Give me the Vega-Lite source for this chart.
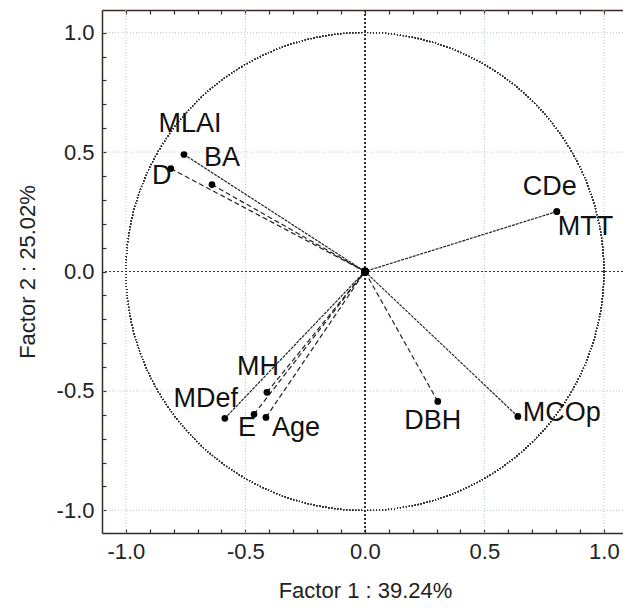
{
  "$schema": "https://vega.github.io/schema/vega-lite/v6.json",
  "width": 521,
  "height": 523,
  "autosize": {"type": "none"},
  "padding": {"left": 102, "top": 10, "right": 0, "bottom": 75},
  "background": "white",
  "config": {
    "view": {"stroke": null},
    "axis": {"grid": false},
    "font": "Liberation Sans",
    "text": {"font": "Liberation Sans", "fontSize": 27, "color": "#111", "baseline": "alphabetic"}
  },
  "data": {
    "values": [
      {"name": "MLAI", "x": -0.757, "y": 0.490},
      {"name": "D", "x": -0.812, "y": 0.431},
      {"name": "BA", "x": -0.640, "y": 0.364},
      {"name": "CDe", "x": 0.803, "y": 0.251},
      {"name": "MTT", "x": 0.803, "y": 0.251},
      {"name": "DBH", "x": 0.305, "y": -0.544},
      {"name": "MCOp", "x": 0.640, "y": -0.607},
      {"name": "MH", "x": -0.410, "y": -0.506},
      {"name": "E", "x": -0.464, "y": -0.598},
      {"name": "Age", "x": -0.414, "y": -0.611},
      {"name": "MDef", "x": -0.586, "y": -0.615}
    ]
  },
  "resolve": {"axis": {"x": "independent", "y": "independent"}},
  "layer": [
    {
      "mark": {"type": "point", "opacity": 0},
      "encoding": {
        "x": {
          "field": "x", "type": "quantitative",
          "scale": {"domain": [-1.1, 1.08], "nice": false, "zero": false},
          "axis": {
            "orient": "bottom",
            "title": "Factor 1 : 39.24%",
            "titleX": 263,
            "titlePadding": 18,
            "values": [-1.0, -0.9, -0.8, -0.7, -0.6, -0.5, -0.4, -0.3, -0.2, -0.1, 0, 0.1, 0.2, 0.3, 0.4, 0.5, 0.6, 0.7, 0.8, 0.9, 1.0],
            "labelExpr": "abs(datum.value * 2 - round(datum.value * 2)) < 0.001 ? (datum.value < 0 ? '-' : '') + format(abs(datum.value), '.1f') : ''",
            "labelFontSize": 22, "labelColor": "#222", "labelPadding": 12,
            "labelFlush": false, "labelOverlap": false, "labelBound": false,
            "tickSize": -4, "tickColor": "#333", "tickWidth": 1.2,
            "domainColor": "#3a2a26", "domainWidth": 1.5,
            "titleFontSize": 22, "titleFontWeight": "normal", "titleColor": "#222",
            "grid": false
          }
        },
        "y": {
          "field": "y", "type": "quantitative",
          "scale": {"domain": [-1.095, 1.095], "nice": false, "zero": false},
          "axis": {
            "orient": "left",
            "title": "Factor 2 : 25.02%",
            "titlePadding": 17,
            "values": [-1.0, -0.9, -0.8, -0.7, -0.6, -0.5, -0.4, -0.3, -0.2, -0.1, 0, 0.1, 0.2, 0.3, 0.4, 0.5, 0.6, 0.7, 0.8, 0.9, 1.0],
            "labelExpr": "abs(datum.value * 2 - round(datum.value * 2)) < 0.001 ? (datum.value < 0 ? '-' : '') + format(abs(datum.value), '.1f') : ''",
            "labelFontSize": 22, "labelColor": "#222", "labelPadding": 12,
            "labelFlush": false, "labelOverlap": false, "labelBound": false,
            "tickSize": -4, "tickColor": "#333", "tickWidth": 1.2,
            "domainColor": "#3a2a26", "domainWidth": 1.5,
            "titleFontSize": 22, "titleFontWeight": "normal", "titleColor": "#222",
            "grid": false
          }
        }
      }
    },
    {
      "mark": {"type": "point", "opacity": 0},
      "encoding": {
        "x": {
          "field": "x", "type": "quantitative",
          "axis": {
            "orient": "top", "title": null, "labels": false, "grid": false,
            "values": [-1.0, -0.9, -0.8, -0.7, -0.6, -0.5, -0.4, -0.3, -0.2, -0.1, 0, 0.1, 0.2, 0.3, 0.4, 0.5, 0.6, 0.7, 0.8, 0.9, 1.0],
            "tickSize": -4, "tickColor": "#333", "tickWidth": 1.2,
            "domainColor": "#3a2a26", "domainWidth": 1.5
          }
        }
      }
    },
    {
      "layer": [
        {
          "data": {"values": [{"g": -1.0}, {"g": -0.5}, {"g": 0.5}, {"g": 1.0}]},
          "mark": {"type": "rule", "color": "#b7c4d2", "strokeWidth": 1, "strokeDash": [1, 2]},
          "encoding": {"x": {"field": "g", "type": "quantitative", "axis": null}}
        },
        {
          "data": {"values": [{"g": -1.0}, {"g": -0.5}, {"g": 0.5}, {"g": 1.0}]},
          "mark": {"type": "rule", "color": "#b7c4d2", "strokeWidth": 1, "strokeDash": [1, 2]},
          "encoding": {"y": {"field": "g", "type": "quantitative", "axis": null}}
        },
        {
          "mark": {"type": "rule", "color": "#333", "strokeDash": [2, 2], "strokeWidth": 1},
          "encoding": {"x": {"datum": 0, "type": "quantitative", "axis": null}}
        },
        {
          "mark": {"type": "rule", "color": "#333", "strokeDash": [2, 2], "strokeWidth": 1},
          "encoding": {"y": {"datum": 0, "type": "quantitative", "axis": null}}
        },
        {
          "mark": {
            "type": "point", "shape": "circle", "filled": false, "stroke": "#333", "strokeWidth": 1.2, "strokeDash": [1, 2], "opacity": 1,
            "size": {"expr": "4 * pow(scale('x', 1) - scale('x', 0), 2)"}
          },
          "encoding": {
            "x": {"datum": 0, "type": "quantitative", "axis": null},
            "y": {"datum": 0, "type": "quantitative", "axis": null}
          }
        },
        {
          "transform": [{"filter": {"field": "name", "oneOf": ["MLAI", "CDe", "MCOp", "MDef"]}}],
          "mark": {"type": "rule", "color": "#222", "strokeWidth": 1.2, "strokeDash": [3, 1]},
          "encoding": {
            "x": {"field": "x", "type": "quantitative", "axis": null},
            "y": {"field": "y", "type": "quantitative", "axis": null},
            "x2": {"datum": 0},
            "y2": {"datum": 0}
          }
        },
        {
          "transform": [{"filter": {"field": "name", "oneOf": ["D", "BA", "DBH", "MH", "E", "Age"]}}],
          "mark": {"type": "rule", "color": "#222", "strokeWidth": 1.2, "strokeDash": [5, 3]},
          "encoding": {
            "x": {"field": "x", "type": "quantitative", "axis": null},
            "y": {"field": "y", "type": "quantitative", "axis": null},
            "x2": {"datum": 0},
            "y2": {"datum": 0}
          }
        },
        {
          "mark": {"type": "point", "filled": true, "color": "#000", "size": 60, "opacity": 1},
          "encoding": {
            "x": {"datum": 0, "type": "quantitative", "axis": null},
            "y": {"datum": 0, "type": "quantitative", "axis": null}
          }
        },
        {
          "mark": {"type": "point", "filled": true, "color": "#000", "size": 45, "opacity": 1},
          "encoding": {
            "x": {"field": "x", "type": "quantitative", "axis": null},
            "y": {"field": "y", "type": "quantitative", "axis": null}
          }
        },
        {
          "transform": [{"filter": {"field": "name", "equal": "MLAI"}}],
          "mark": {"type": "text", "align": "center", "dx": 6, "dy": -22},
          "encoding": {"x": {"field": "x", "type": "quantitative", "axis": null}, "y": {"field": "y", "type": "quantitative", "axis": null}, "text": {"field": "name"}}
        },
        {
          "transform": [{"filter": {"field": "name", "equal": "BA"}}],
          "mark": {"type": "text", "align": "center", "dx": 10, "dy": -19},
          "encoding": {"x": {"field": "x", "type": "quantitative", "axis": null}, "y": {"field": "y", "type": "quantitative", "axis": null}, "text": {"field": "name"}}
        },
        {
          "transform": [{"filter": {"field": "name", "equal": "D"}}],
          "mark": {"type": "text", "align": "center", "dx": -9, "dy": 15},
          "encoding": {"x": {"field": "x", "type": "quantitative", "axis": null}, "y": {"field": "y", "type": "quantitative", "axis": null}, "text": {"field": "name"}}
        },
        {
          "transform": [{"filter": {"field": "name", "equal": "CDe"}}],
          "mark": {"type": "text", "align": "center", "dx": -7, "dy": -17},
          "encoding": {"x": {"field": "x", "type": "quantitative", "axis": null}, "y": {"field": "y", "type": "quantitative", "axis": null}, "text": {"field": "name"}}
        },
        {
          "transform": [{"filter": {"field": "name", "equal": "MTT"}}],
          "mark": {"type": "text", "align": "left", "dx": 1, "dy": 23},
          "encoding": {"x": {"field": "x", "type": "quantitative", "axis": null}, "y": {"field": "y", "type": "quantitative", "axis": null}, "text": {"field": "name"}}
        },
        {
          "transform": [{"filter": {"field": "name", "equal": "DBH"}}],
          "mark": {"type": "text", "align": "center", "dx": -5, "dy": 28},
          "encoding": {"x": {"field": "x", "type": "quantitative", "axis": null}, "y": {"field": "y", "type": "quantitative", "axis": null}, "text": {"field": "name"}}
        },
        {
          "transform": [{"filter": {"field": "name", "equal": "MCOp"}}],
          "mark": {"type": "text", "align": "left", "dx": 5, "dy": 5},
          "encoding": {"x": {"field": "x", "type": "quantitative", "axis": null}, "y": {"field": "y", "type": "quantitative", "axis": null}, "text": {"field": "name"}}
        },
        {
          "transform": [{"filter": {"field": "name", "equal": "MH"}}],
          "mark": {"type": "text", "align": "center", "dx": -9, "dy": -17},
          "encoding": {"x": {"field": "x", "type": "quantitative", "axis": null}, "y": {"field": "y", "type": "quantitative", "axis": null}, "text": {"field": "name"}}
        },
        {
          "transform": [{"filter": {"field": "name", "equal": "MDef"}}],
          "mark": {"type": "text", "align": "center", "dx": -19, "dy": -11},
          "encoding": {"x": {"field": "x", "type": "quantitative", "axis": null}, "y": {"field": "y", "type": "quantitative", "axis": null}, "text": {"field": "name"}}
        },
        {
          "transform": [{"filter": {"field": "name", "equal": "E"}}],
          "mark": {"type": "text", "align": "center", "dx": -7, "dy": 22},
          "encoding": {"x": {"field": "x", "type": "quantitative", "axis": null}, "y": {"field": "y", "type": "quantitative", "axis": null}, "text": {"field": "name"}}
        },
        {
          "transform": [{"filter": {"field": "name", "equal": "Age"}}],
          "mark": {"type": "text", "align": "left", "dx": 6, "dy": 19},
          "encoding": {"x": {"field": "x", "type": "quantitative", "axis": null}, "y": {"field": "y", "type": "quantitative", "axis": null}, "text": {"field": "name"}}
        }
      ]
    }
  ]
}
